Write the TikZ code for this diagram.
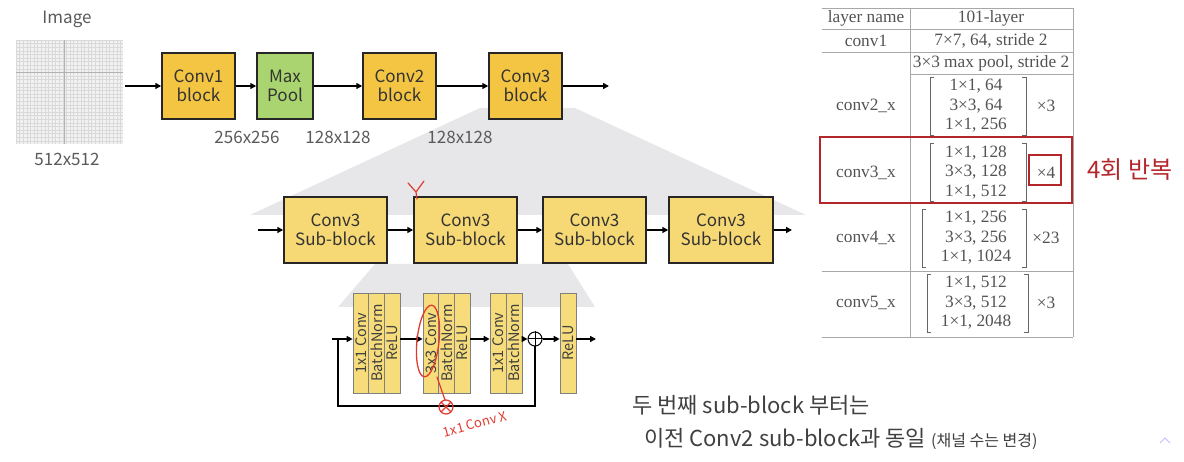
\documentclass[tikz,border=0pt]{standalone}
\usepackage{fontspec}
\setmainfont{Noto Sans CJK KR}
\newfontfamily\tabfont{Liberation Serif}
\usepackage{graphicx}
\usepackage{tikz}
\usetikzlibrary{arrows.meta, positioning}

\definecolor{blkyellow}{HTML}{F4C542}
\definecolor{poolgreen}{HTML}{A9D46F}
\definecolor{subyellow}{HTML}{F6D874}
\definecolor{stripyellow}{HTML}{F7DC7C}
\definecolor{funnel}{HTML}{E7E7E9}
\definecolor{txtgray}{HTML}{5A5A5A}
\definecolor{tabline}{HTML}{A8A8A8}
\definecolor{markred}{HTML}{B3262A}
\definecolor{penred}{HTML}{E03A2F}

\tikzset{
    blk/.style={draw=black!85, line width=1.5pt, fill=blkyellow, minimum width=73pt,
        minimum height=66pt, inner sep=0pt, align=center, text=black!80,
        font=\fontsize{17}{19}\selectfont},
    subblk/.style={blk, fill=subyellow, minimum width=103pt},
    strip/.style={draw=black!50, line width=0.6pt, fill=stripyellow, minimum width=15.7pt,
        minimum height=100pt, inner sep=0pt, text=black!75, font=\fontsize{14.5}{14.5}\selectfont},
    arr/.style={-{Triangle[length=6pt,width=6pt]}, line width=1.5pt},
    lbl/.style={text=txtgray, inner sep=0pt, font=\fontsize{17}{19}\selectfont},
    tab/.style={text=black!68, inner sep=0pt, font=\tabfont\fontsize{17.3}{19.5}\selectfont},
}

\begin{document}
\begin{tikzpicture}[x=1pt, y=-1pt]
    \useasboundingbox (0,0) rectangle (1184,462);
    % zoom funnels
    \fill[funnel] (480,108) -- (575,108) -- (806,215) -- (250,215) -- cycle;
    \fill[funnel] (375,264) -- (568,264) -- (595,307) -- (338,307) -- cycle;

    % input image
    \node (img) [minimum width=107pt, minimum height=104pt, fill=black!5, inner sep=0pt] at (69.5,92) {};
    \foreach \x in {16,19.6,...,123}
        \draw[black!15, line width=0.4pt] (\x,40) -- (\x,144);
    \foreach \y in {40,43.6,...,144}
        \draw[black!15, line width=0.4pt] (16,\y) -- (123,\y);
    \draw[black!30, line width=0.6pt] (64,40) -- (64,144) (16,72) -- (123,72);
    \node[lbl] (limg) at (67,19) {Image};
    \node[lbl] (l512) at (67,159) {512x512};

    % top row
    \node[blk] (conv1) at (198.5,86) {Conv1\\block};
    \node[blk, fill=poolgreen, minimum width=56pt] (pool) at (285,86) {Max\\Pool};
    \node[blk] (conv2) at (399.5,86) {Conv2\\block};
    \node[blk] (conv3) at (525.5,86) {Conv3\\block};
    \coordinate (topout) at (609,86);
    \draw[arr, shorten <=2pt] (img.east |- conv1) -- (conv1.west);
    \draw[arr] (conv1) -- (pool);
    \draw[arr] (pool) -- (conv2);
    \draw[arr] (conv2) -- (conv3);
    \draw[arr] (conv3) -- (topout);
    \node[lbl] (l256) at (247,137) {256x256};
    \node[lbl] (l128a) at (338,137) {128x128};
    \node[lbl] (l128b) at (460,137) {128x128};

    % sub-blocks
    \node[subblk] (sb1) at (335.5,230) {Conv3\\Sub-block};
    \node[subblk] (sb2) at (465.5,230) {Conv3\\Sub-block};
    \node[subblk] (sb3) at (594.5,230) {Conv3\\Sub-block};
    \node[subblk, minimum width=104pt] (sb4) at (721,230) {Conv3\\Sub-block};
    \coordinate (sbin) at (258,230);
    \coordinate (sbout) at (792,230);
    \draw[arr] (sbin) -- (sb1);
    \draw[arr] (sb1) -- (sb2);
    \draw[arr] (sb2) -- (sb3);
    \draw[arr] (sb3) -- (sb4);
    \draw[arr] (sb4) -- (sbout);

    % bottleneck
    \node[strip] (p1) at (360.8,343) {\rotatebox{90}{1x1 Conv}};
    \node[strip] (p2) at (376.5,343) {\rotatebox{90}{BatchNorm}};
    \node[strip] (p3) at (392.2,343) {\rotatebox{90}{ReLU}};
    \node[strip] (q1) at (430.8,343) {\rotatebox{90}{3x3 Conv}};
    \node[strip] (q2) at (446.5,343) {\rotatebox{90}{BatchNorm}};
    \node[strip] (q3) at (462.2,343) {\rotatebox{90}{ReLU}};
    \node[strip, minimum width=16pt] (s1) at (498,343) {\rotatebox{90}{1x1 Conv}};
    \node[strip, minimum width=16pt] (s2) at (514,343) {\rotatebox{90}{BatchNorm}};
    \node[strip, minimum width=16pt] (relu) at (568,343) {\rotatebox{90}{ReLU}};
    \node[circle, draw, line width=1pt, minimum size=14pt, inner sep=0pt, fill=white] (plus) at (535,339) {};
    \draw[line width=1pt] (plus.north) -- (plus.south) (plus.west) -- (plus.east);
    \coordinate (rin) at (332,339);
    \coordinate (jn) at (338,339);
    \coordinate (skip) at (338,406);
    \coordinate (rout) at (596,339);
    \draw[arr] (rin) -- (p1.west |- rin);
    \draw[arr] (p3.east |- rin) -- (q1.west |- rin);
    \draw[arr] (q3.east |- rin) -- (s1.west |- rin);
    \draw[arr] (s2.east |- rin) -- (plus.west);
    \draw[arr] (plus.east) -- (relu.west |- rin);
    \draw[arr] (relu.east |- rin) -- (rout);
    \draw[line width=1.5pt] (jn) -- (skip) -| (plus.south);

    % pen marks
    \draw[penred, line width=1.2pt, line cap=round] (408,183) -- (416,192) -- (424,181) (416,192) -- (417,199);
    \draw[penred, line width=1.3pt, rotate around={-6:(428,341)}] (428,341) ellipse [x radius=11, y radius=36];
    \draw[penred, line width=1.2pt, line cap=round] (437,377) -- (445,400);
    \draw[penred, line width=1.2pt] (446,407) circle (7);
    \draw[penred, line width=1.2pt] (441,402) -- (451,412) (451,402) -- (441,412);
    \node[text=penred, rotate=15, inner sep=0pt, font=\fontsize{13}{13}\selectfont] (pennote) at (475,424) {1x1 Conv X};

    % table
    \draw[tabline, line width=0.8pt] (822,8) -- (1073,8) (822,29) -- (1073,29) (822,52) -- (1073,52)
        (910,74) -- (1073,74) (822,137) -- (1073,137) (822,203) -- (1073,203)
        (822,271) -- (1073,271) (822,337) -- (1073,337)
        (910,8) -- (910,337) (1073,8) -- (1073,337);
    \node[tab] (hd1) at (866,18) {layer name};
    \node[tab] (hd2) at (991,18) {101-layer};
    \node[tab] (r1a) at (866,41) {conv1};
    \node[tab] (r1b) at (991,41) {7×7, 64, stride 2};
    \node[tab] (mpool) at (991,63) {3×3 max pool, stride 2};
    \foreach \n/\yc/\a/\b/\c/\k/\bl/\br in {
        2/106/{1×1, 64}/{3×3, 64}/{1×1, 256}/3/930/1026,
        3/172.5/{1×1, 128}/{3×3, 128}/{1×1, 512}/4/930/1026,
        4/238/{1×1, 256}/{3×3, 256}/{1×1, 1024}/23/922/1026,
        5/303/{1×1, 512}/{3×3, 512}/{1×1, 2048}/3/927/1028} {
        \node[tab] (cl\n) at (866,\yc) {conv\n\_x};
        \node[tab] (ca\n) at (976,\yc-19.5) {\a};
        \node[tab] (cb\n) at (976,\yc) {\b};
        \node[tab] (cc\n) at (976,\yc+19.5) {\c};
        \node[tab] (ck\n) at (1046,\yc) {×\k};
        \draw[black!60, line width=0.8pt] (\bl+4,\yc-29) -- (\bl,\yc-29) -- (\bl,\yc+29) -- (\bl+4,\yc+29);
        \draw[black!60, line width=0.8pt] (\br-4,\yc-29) -- (\br,\yc-29) -- (\br,\yc+29) -- (\br-4,\yc+29);
    }
    \draw[markred, line width=2.5pt] (820,137) rectangle (1072,203);
    \draw[markred, line width=2.2pt] (1029,155) rectangle (1061,185);
    \node[text=markred, inner sep=0pt, font=\fontsize{24}{24}\selectfont] (rep) at (1130,170) {4회 반복};

    % note
    \node[anchor=west, text=black!75, inner sep=0pt, font=\fontsize{22}{26}\selectfont] (note1) at (632,405) {두 번째 sub-block 부터는};
    \node[anchor=west, text=black!75, inner sep=0pt, font=\fontsize{22}{26}\selectfont] (note2) at (644,439)
        {이전 Conv2 sub-block과 동일 {\fontsize{16}{16}\selectfont (채널 수는 변경)}};
    \draw[blue!25, line width=1pt] (1160,443) -- (1165,438) -- (1170,443);
\end{tikzpicture}
\end{document}
